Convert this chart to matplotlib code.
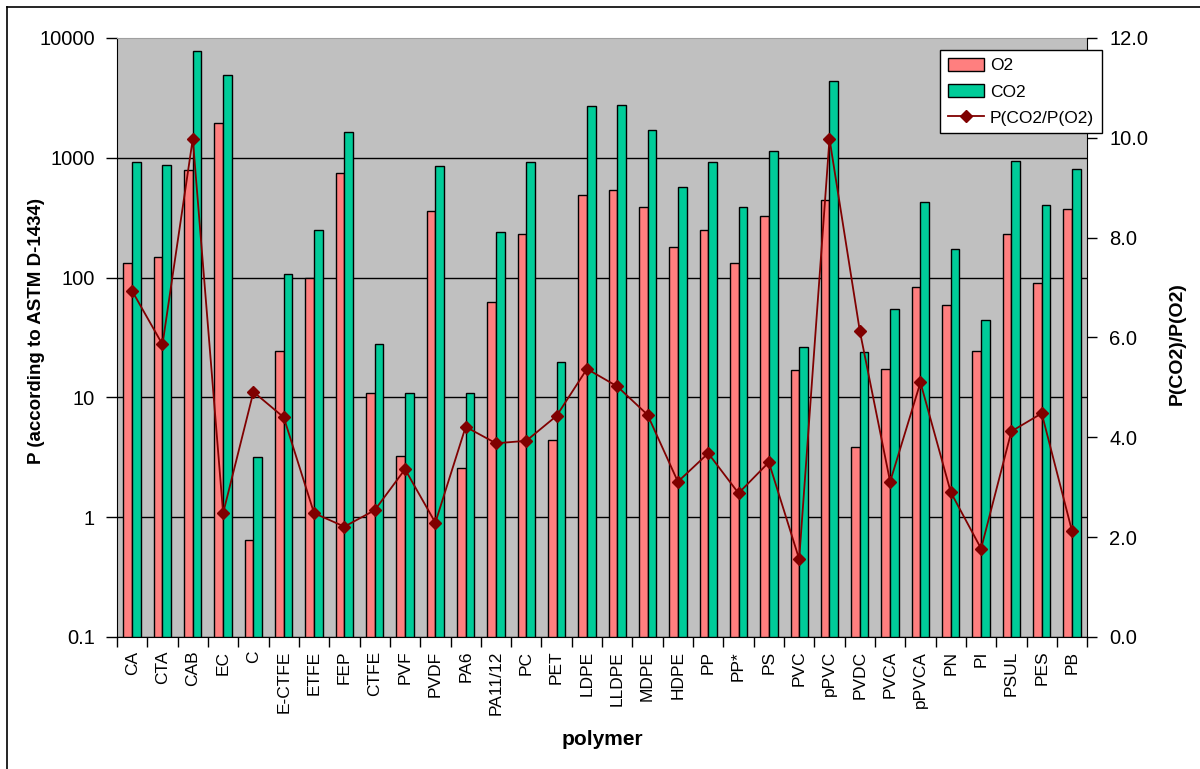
import numpy as np
import matplotlib
matplotlib.use('Agg')
import matplotlib.pyplot as plt
from matplotlib.ticker import FixedLocator, FixedFormatter
from matplotlib.lines import Line2D

plt.rcParams['font.family'] = ['Liberation Sans', 'DejaVu Sans']

polymers = ['CA', 'CTA', 'CAB', 'EC', 'C', 'E-CTFE', 'ETFE', 'FEP', 'CTFE', 'PVF',
            'PVDF', 'PA6', 'PA11/12', 'PC', 'PET', 'LDPE', 'LLDPE', 'MDPE', 'HDPE',
            'PP', 'PP*', 'PS', 'PVC', 'pPVC', 'PVDC', 'PVCA', 'pPVCA', 'PN', 'PI',
            'PSUL', 'PES', 'PB']

# permeability, ASTM D-1434
p_o2 = [133, 148, 789, 1964, 0.64, 24.2, 100, 748, 10.8, 3.23,
        357, 2.57, 62.2, 230, 4.41, 489, 543, 389, 180,
        248, 133, 324, 16.8, 443, 3.82, 17.3, 83.0, 59.5, 24.2,
        230, 90.3, 377]
p_co2 = [918, 871, 7838, 4893, 3.16, 107.7, 248, 1637, 27.8, 10.8,
         851, 10.9, 241, 918, 19.7, 2684, 2767, 1714, 573,
         918, 389, 1137, 26.4, 4399, 23.7, 54.7, 429, 174, 44.2,
         947, 401, 807]
ratio = [6.93, 5.86, 9.98, 2.48, 4.91, 4.40, 2.48, 2.21, 2.54, 3.36,
         2.29, 4.21, 3.88, 3.93, 4.43, 5.37, 5.02, 4.45, 3.11,
         3.68, 2.88, 3.50, 1.56, 9.98, 6.13, 3.11, 5.10, 2.90, 1.77,
         4.12, 4.48, 2.12]

left_ticks = [0.1, 1, 10, 100, 1000, 10000]
left_labels = ['0.1', '1', '10', '100', '1000', '10000']
right_ticks = [0, 2, 4, 6, 8, 10, 12]

fig = plt.figure(figsize=(12, 7.69), dpi=100)
ax = fig.add_axes([0.0975, 0.1717, 0.8085, 0.7789])
ax.set_facecolor('#C0C0C0')

x = np.arange(len(polymers))
w = 1 / 3.5
base = 0.1
o2 = np.array(p_o2)
co2 = np.array(p_co2)
ax.bar(x - w / 2, o2 - base, w, bottom=base, color='#FF7F7F', edgecolor='black',
       linewidth=1, label='O2', zorder=3)
ax.bar(x + w / 2, co2 - base, w, bottom=base, color='#00CC99', edgecolor='black',
       linewidth=1, label='CO2', zorder=3)

ax.set_yscale('log')
ax.set_ylim(0.1, 10000)
ax.set_xlim(-0.5, len(polymers) - 0.5)
ax.yaxis.set_major_locator(FixedLocator(left_ticks))
ax.yaxis.set_major_formatter(FixedFormatter(left_labels))
ax.yaxis.set_minor_locator(FixedLocator([]))
ax.tick_params(axis='y', which='major', direction='out', length=8, width=1,
               labelsize=14.5, pad=8)
ax.yaxis.grid(True, color='black', linewidth=1)
ax.yaxis.get_major_ticks()[-1].gridline.set_visible(False)
ax.set_axisbelow(True)

ax.set_xticks(x)
ax.set_xticklabels(polymers, rotation=90, fontsize=12.5)
ax.set_xticks(np.arange(len(polymers) + 1) - 0.5, minor=True)
ax.tick_params(axis='x', which='major', length=0, pad=10)
ax.tick_params(axis='x', which='minor', direction='out', length=7, width=1)

for side in ['left', 'bottom']:
    ax.spines[side].set_color('black')
ax.spines['top'].set_color('#A0A0A0')
ax.spines['right'].set_visible(False)

ax.set_ylabel('P (according to ASTM D-1434)', fontsize=13.5, fontweight='bold')
ax.yaxis.set_label_coords(-0.083, 0.51)
ax.yaxis.label.set_va('center')
ax.set_xlabel('polymer', fontsize=15, fontweight='bold')
ax.xaxis.set_label_coords(0.5, -0.172)
ax.xaxis.label.set_va('center')

ax2 = ax.twinx()
ax2.patch.set_visible(False)
ax2.plot(x, ratio, color='#800000', linewidth=1.3, marker='D', markersize=6,
         markerfacecolor='#800000', markeredgecolor='#800000',
         label='P(CO2/P(O2)', zorder=5)
ax2.set_ylim(0, 12)
ax2.set_yticks(right_ticks)
ax2.set_yticklabels([f'{v:.1f}' for v in right_ticks])
ax2.tick_params(axis='y', direction='out', length=7, width=1, labelsize=14.5, pad=9)
ax2.spines['right'].set_color('black')
ax2.spines['top'].set_visible(False)
ax2.spines['left'].set_visible(False)
ax2.spines['bottom'].set_visible(False)
ax2.set_ylabel('P(CO2)/P(O2)', fontsize=14, fontweight='bold')
ax2.yaxis.set_label_coords(1.093, 0.49)
ax2.yaxis.label.set_va('center')

h1, l1 = ax.get_legend_handles_labels()
h2, l2 = ax2.get_legend_handles_labels()
leg = ax2.legend(h1 + h2, l1 + l2, loc='upper left',
                 bbox_to_anchor=(0.848, 0.98), fontsize=12.5, frameon=True,
                 fancybox=False, edgecolor='black', framealpha=1,
                 handlelength=2.1, handleheight=0.8, handletextpad=0.35,
                 borderpad=0.45, labelspacing=0.6, borderaxespad=0)
leg.get_frame().set_linewidth(1)

# chart frame: left and top edges
fig.add_artist(Line2D([0.006, 0.006], [0.0, 0.991], transform=fig.transFigure,
                      color='black', linewidth=1.2))
fig.add_artist(Line2D([0.006, 1.0], [0.991, 0.991], transform=fig.transFigure,
                      color='black', linewidth=1.2))

fig.savefig('out.png', dpi=100)
plt.close(fig)
